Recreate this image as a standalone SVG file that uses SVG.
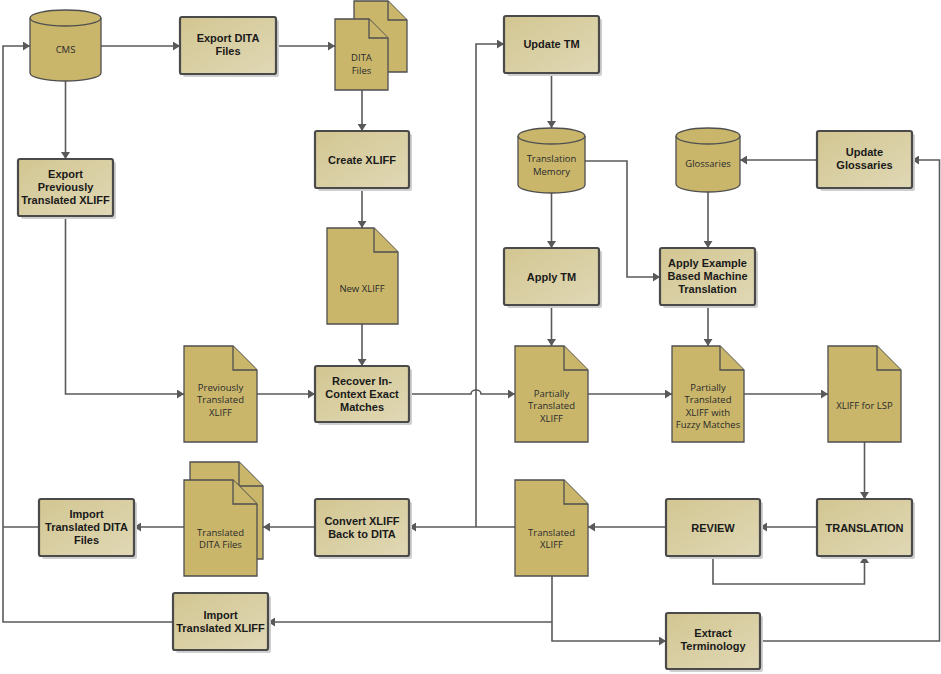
<svg xmlns="http://www.w3.org/2000/svg" width="941" height="674" viewBox="0 0 941 674">
<defs>
<linearGradient id="boxg" x1="0" y1="0" x2="1" y2="1">
<stop offset="0" stop-color="#d2c691"/>
<stop offset="1" stop-color="#e0d8b6"/>
</linearGradient>
<marker id="ah" markerWidth="8" markerHeight="9" refX="7" refY="4.5" orient="auto" markerUnits="userSpaceOnUse">
<path d="M0,0 L7,4.5 L0,9 Z" fill="#595959"/>
</marker>
</defs>
<style>
.box{fill:url(#boxg);stroke:#4a4a4a;stroke-width:2.2}
.shadow{fill:#cfcfcf}
.doc{fill:#c9b66b;stroke:#4f4f4f;stroke-width:1.3}
.cyl{fill:#c9b66b;stroke:#4f4f4f;stroke-width:1.3}
.bt{font-family:"Liberation Sans",Arial,sans-serif;font-weight:bold;font-size:11px;fill:#1a1a1a;text-anchor:middle}
.dt{font-family:"Open Sans","Liberation Sans",sans-serif;font-size:9.5px;fill:#2a2a2a;text-anchor:middle}
.cn{fill:none;stroke:#5a5a5a;stroke-width:1.6}
.ar{marker-end:url(#ah)}
</style>
<rect width="941" height="674" fill="#ffffff"/>

<g id="connectors">
<path class="cn ar" d="M101,46 H180"/>
<path class="cn ar" d="M276,46 H335"/>
<path class="cn ar" d="M362,90 V131"/>
<path class="cn ar" d="M362,188 V228"/>
<path class="cn ar" d="M362,324 V366"/>
<path class="cn ar" d="M65.5,81 V159"/>
<path class="cn ar" d="M65.5,216 V394 H184"/>
<path class="cn ar" d="M257,394 H315"/>
<path class="cn ar" d="M409,394 H471 A5,4 0 0 1 481,394 H515"/>
<path class="cn ar" d="M551.5,73 V128"/>
<path class="cn ar" d="M551.5,193 V248"/>
<path class="cn ar" d="M585,161 H627 V277 H660"/>
<path class="cn ar" d="M708,192 V248"/>
<path class="cn ar" d="M817,160 H740"/>
<path class="cn ar" d="M551.5,305 V346"/>
<path class="cn ar" d="M708,305 V346"/>
<path class="cn ar" d="M588,394 H672"/>
<path class="cn ar" d="M744,394 H828"/>
<path class="cn ar" d="M864.5,442 V499"/>
<path class="cn ar" d="M817,527 H760"/>
<path class="cn ar" d="M713,556 V584 H864.5 V556"/>
<path class="cn ar" d="M666,527 H588"/>
<path class="cn ar" d="M515,527 H409"/>
<path class="cn ar" d="M476,527 V44 H504"/>
<path class="cn ar" d="M315,527 H263"/>
<path class="cn ar" d="M184,527 H134"/>
<path class="cn" d="M39,527 H3"/>
<path class="cn ar" d="M552,576 V641 H666"/>
<path class="cn ar" d="M552,622 H268"/>
<path class="cn ar" d="M173,622 H3 V46 H30"/>
<path class="cn ar" d="M760,641 H939.5 V160 H912"/>
</g>

<g id="cms">
<path class="cyl" d="M30,18 A35.5,8 0 0 1 101,18 V73 A35.5,8 0 0 1 30,73 Z"/>
<path class="cyl" fill="none" d="M30,18 A35.5,8 0 0 0 101,18"/>
<text class="dt" x="65.5" y="52.5">CMS</text>
</g>

<g id="export-dita">
<rect class="shadow" x="183" y="20" width="96" height="57" rx="2"/>
<rect class="box" x="180" y="17" width="96" height="57" rx="2"/>
<text class="bt" x="228" y="42">Export DITA</text>
<text class="bt" x="228" y="55">Files</text>
</g>

<g id="dita-files">
<path class="doc" d="M354,1 H388 L407,20 V72 H354 Z"/>
<path class="doc" d="M388,1 V20 H407"/>
<path class="doc" d="M335,19 H369 L388,38 V90 H335 Z"/>
<path class="doc" d="M369,19 V38 H388"/>
<text class="dt" x="361.5" y="60.5">DITA</text>
<text class="dt" x="361.5" y="73.5">Files</text>
</g>

<g id="create-xliff">
<rect class="shadow" x="318" y="134" width="94" height="57" rx="2"/>
<rect class="box" x="315" y="131" width="94" height="57" rx="2"/>
<text class="bt" x="362" y="163.5">Create XLIFF</text>
</g>

<g id="export-prev">
<rect class="shadow" x="21" y="162" width="95" height="57" rx="2"/>
<rect class="box" x="18" y="159" width="95" height="57" rx="2"/>
<text class="bt" x="65.5" y="178">Export</text>
<text class="bt" x="65.5" y="191">Previously</text>
<text class="bt" x="65.5" y="204">Translated XLIFF</text>
</g>

<g id="new-xliff">
<path class="doc" d="M327,228 H374 L398,252 V324 H327 Z"/>
<path class="doc" d="M374,228 V252 H398"/>
<text class="dt" x="362" y="291.5">New XLIFF</text>
</g>

<g id="prev-xliff">
<path class="doc" d="M184,346 H233 L257,370 V442 H184 Z"/>
<path class="doc" d="M233,346 V370 H257"/>
<text class="dt" x="220.5" y="390.5">Previously</text>
<text class="dt" x="220.5" y="403">Translated</text>
<text class="dt" x="220.5" y="415.5">XLIFF</text>
</g>

<g id="recover">
<rect class="shadow" x="318" y="369" width="94" height="56" rx="2"/>
<rect class="box" x="315" y="366" width="94" height="56" rx="2"/>
<text class="bt" x="362" y="385">Recover In-</text>
<text class="bt" x="362" y="398">Context Exact</text>
<text class="bt" x="362" y="411">Matches</text>
</g>

<g id="update-tm">
<rect class="shadow" x="507" y="19" width="95" height="57" rx="2"/>
<rect class="box" x="504" y="16" width="95" height="57" rx="2"/>
<text class="bt" x="551.5" y="47.5">Update TM</text>
</g>

<g id="tm">
<path class="cyl" d="M518,136 A33.5,8 0 0 1 585,136 V185 A33.5,8 0 0 1 518,185 Z"/>
<path class="cyl" fill="none" d="M518,136 A33.5,8 0 0 0 585,136"/>
<text class="dt" x="551.5" y="161.5">Translation</text>
<text class="dt" x="551.5" y="174.5">Memory</text>
</g>

<g id="glossaries">
<path class="cyl" d="M676,136 A32,8 0 0 1 740,136 V184 A32,8 0 0 1 676,184 Z"/>
<path class="cyl" fill="none" d="M676,136 A32,8 0 0 0 740,136"/>
<text class="dt" x="708" y="166.5">Glossaries</text>
</g>

<g id="update-glossaries">
<rect class="shadow" x="820" y="134" width="95" height="57" rx="2"/>
<rect class="box" x="817" y="131" width="95" height="57" rx="2"/>
<text class="bt" x="864.5" y="156">Update</text>
<text class="bt" x="864.5" y="169">Glossaries</text>
</g>

<g id="apply-tm">
<rect class="shadow" x="507" y="251" width="95" height="57" rx="2"/>
<rect class="box" x="504" y="248" width="95" height="57" rx="2"/>
<text class="bt" x="551.5" y="280.5">Apply TM</text>
</g>

<g id="apply-ebmt">
<rect class="shadow" x="663" y="251" width="95" height="57" rx="2"/>
<rect class="box" x="660" y="248" width="95" height="57" rx="2"/>
<text class="bt" x="707.5" y="267">Apply Example</text>
<text class="bt" x="707.5" y="280">Based Machine</text>
<text class="bt" x="707.5" y="293">Translation</text>
</g>

<g id="partial-xliff">
<path class="doc" d="M515,346 H564 L588,370 V442 H515 Z"/>
<path class="doc" d="M564,346 V370 H588"/>
<text class="dt" x="551.5" y="396.5">Partially</text>
<text class="dt" x="551.5" y="409">Translated</text>
<text class="dt" x="551.5" y="421.5">XLIFF</text>
</g>

<g id="fuzzy-xliff">
<path class="doc" d="M672,346 H720 L744,370 V442 H672 Z"/>
<path class="doc" d="M720,346 V370 H744"/>
<text class="dt" x="708" y="390.5">Partially</text>
<text class="dt" x="708" y="403">Translated</text>
<text class="dt" x="708" y="415.5">XLIFF with</text>
<text class="dt" x="708" y="428">Fuzzy Matches</text>
</g>

<g id="lsp-xliff">
<path class="doc" d="M828,346 H877 L901,370 V442 H828 Z"/>
<path class="doc" d="M877,346 V370 H901"/>
<text class="dt" x="864.5" y="409">XLIFF for LSP</text>
</g>

<g id="translation">
<rect class="shadow" x="820" y="502" width="95" height="57" rx="2"/>
<rect class="box" x="817" y="499" width="95" height="57" rx="2"/>
<text class="bt" x="864.5" y="531.5">TRANSLATION</text>
</g>

<g id="review">
<rect class="shadow" x="669" y="502" width="94" height="57" rx="2"/>
<rect class="box" x="666" y="499" width="94" height="57" rx="2"/>
<text class="bt" x="713" y="531.5">REVIEW</text>
</g>

<g id="translated-xliff">
<path class="doc" d="M515,480 H564 L588,504 V576 H515 Z"/>
<path class="doc" d="M564,480 V504 H588"/>
<text class="dt" x="551.5" y="535.5">Translated</text>
<text class="dt" x="551.5" y="548">XLIFF</text>
</g>

<g id="convert">
<rect class="shadow" x="318" y="502" width="94" height="57" rx="2"/>
<rect class="box" x="315" y="499" width="94" height="57" rx="2"/>
<text class="bt" x="362" y="525">Convert XLIFF</text>
<text class="bt" x="362" y="538">Back to DITA</text>
</g>

<g id="translated-dita">
<path class="doc" d="M190,462 H239 L263,486 V559 H190 Z"/>
<path class="doc" d="M239,462 V486 H263"/>
<path class="doc" d="M184,480 H233 L257,504 V576 H184 Z"/>
<path class="doc" d="M233,480 V504 H257"/>
<text class="dt" x="220.5" y="535.5">Translated</text>
<text class="dt" x="220.5" y="548">DITA Files</text>
</g>

<g id="import-dita">
<rect class="shadow" x="42" y="502" width="95" height="57" rx="2"/>
<rect class="box" x="39" y="499" width="95" height="57" rx="2"/>
<text class="bt" x="86.5" y="518">Import</text>
<text class="bt" x="86.5" y="531">Translated DITA</text>
<text class="bt" x="86.5" y="544">Files</text>
</g>

<g id="import-xliff">
<rect class="shadow" x="176" y="596" width="95" height="57" rx="2"/>
<rect class="box" x="173" y="593" width="95" height="57" rx="2"/>
<text class="bt" x="220.5" y="618.5">Import</text>
<text class="bt" x="220.5" y="631.5">Translated XLIFF</text>
</g>

<g id="extract">
<rect class="shadow" x="669" y="616" width="94" height="56" rx="2"/>
<rect class="box" x="666" y="613" width="94" height="56" rx="2"/>
<text class="bt" x="713" y="637">Extract</text>
<text class="bt" x="713" y="650">Terminology</text>
</g>
</svg>
